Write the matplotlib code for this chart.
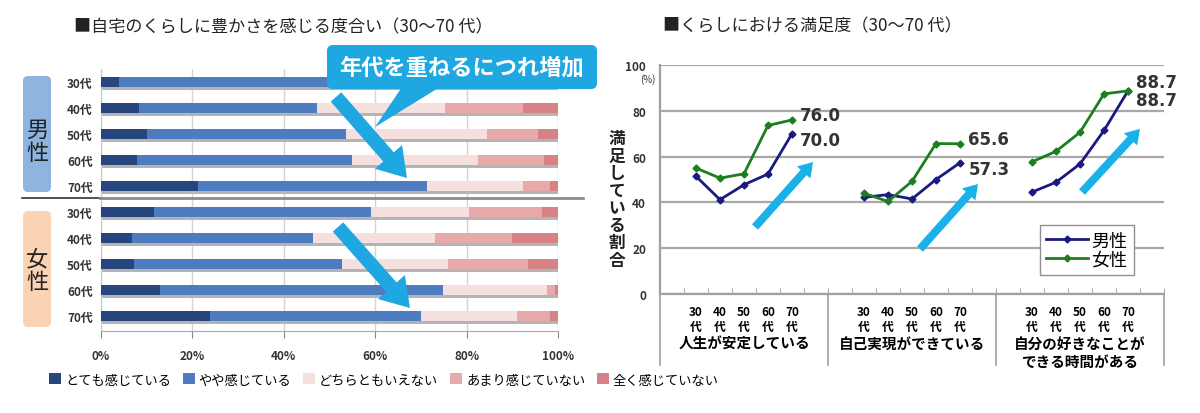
import numpy as np
import matplotlib
matplotlib.use('agg')
import matplotlib.pyplot as plt
from matplotlib.patches import FancyBboxPatch, FancyArrow, Polygon

plt.rcParams['font.family'] = ['Noto Sans CJK JP', 'DejaVu Sans']

###########################################################
# data
###########################################################

# left : 自宅のくらしに豊かさを感じる度合い (%)
ages = ['30代', '40代', '50代', '60代', '70代']
answers = ['とても感じている', 'やや感じている', 'どちらともいえない',
           'あまり感じていない', '全く感じていない']
men = [[4.0, 49.0, 27.0, 13.0, 7.0],
       [8.4, 38.9, 28.0, 17.0, 7.7],
       [10.0, 43.6, 30.8, 11.3, 4.3],
       [7.9, 47.0, 27.6, 14.4, 3.1],
       [21.2, 50.2, 20.9, 5.9, 1.8]]
women = [[11.5, 47.5, 21.6, 15.9, 3.5],
         [6.8, 39.6, 26.6, 17.0, 10.0],
         [7.3, 45.5, 23.2, 17.4, 6.6],
         [13.0, 61.9, 22.8, 1.7, 0.6],
         [23.9, 46.2, 20.9, 7.2, 1.8]]
bar_colors = ['#27467e', '#4e7cc0', '#f6dfdf', '#e8a9ab', '#d98286']

# right : くらしにおける満足度 (%)
groups = ['人生が安定している', '自己実現ができている', '自分の好きなことが\nできる時間がある']
decades = ['30\n代', '40\n代', '50\n代', '60\n代', '70\n代']
male_sat = [[51.4, 41.2, 47.7, 52.4, 70.0],
            [42.2, 43.4, 41.5, 50.0, 57.3],
            [44.5, 48.8, 56.8, 71.4, 88.7]]
female_sat = [[55.0, 50.6, 52.5, 73.6, 76.0],
              [44.0, 40.4, 49.2, 65.7, 65.6],
              [57.7, 62.3, 70.6, 87.4, 88.7]]

###########################################################
# figure
###########################################################
W, H = 1200, 414
fig = plt.figure(figsize=(12, 4.14), dpi=100)

def box(x0, y0, x1, y1):
    # pixel box -> figure fraction
    return [x0 / W, 1 - y1 / H, (x1 - x0) / W, (y1 - y0) / H]

# ---------------- left chart ----------------
ax = fig.add_axes(box(101, 70, 558, 332))
rows = np.array(men + women)
ypos = np.arange(len(rows))
ax.barh(ypos + 0.25, 100, height=0.09, color='#b4b4b4', zorder=2)
left = np.zeros(len(rows))
for k in range(len(answers)):
    ax.barh(ypos, rows[:, k], left=left, height=0.38, color=bar_colors[k],
            label=answers[k], zorder=3)
    left += rows[:, k]
ax.set_xlim(0, 100)
ax.set_ylim(9.58, -0.5)
ax.set_xticks(np.arange(0, 101, 20))
ax.set_xticklabels(['%d%%' % v for v in range(0, 101, 20)], fontsize=8.5,
                   fontweight='bold', color='#333333')
ax.set_yticks(ypos)
ax.set_yticklabels(ages + ages, fontsize=8.5, fontweight='bold', color='#333333')
ax.tick_params(axis='y', length=0, pad=6)
ax.tick_params(axis='x', length=5, color='#888888', pad=8)
ax.grid(axis='x', color='#d4d4d4', lw=1, zorder=0)
for s in ['top', 'right']:
    ax.spines[s].set_visible(False)
ax.spines['left'].set_color('#c8c8c8')
ax.spines['bottom'].set_color('#a8a8a8')
ax.spines['bottom'].set_linestyle((0, (2, 1)))

ax.set_title('■自宅のくらしに豊かさを感じる度合い（30～70 代）', loc='left', x=-0.06,
             fontsize=12.3, pad=27, color='#222222')

fig.legend(*ax.get_legend_handles_labels(), loc='center left',
           bbox_to_anchor=(0.031, 1 - 381 / H), ncol=5, frameon=False,
           fontsize=9.5, handlelength=0.9, handleheight=0.9, handletextpad=0.3,
           columnspacing=0.9)

# ---------------- right chart ----------------
ax2 = fig.add_axes(box(660, 66, 1164, 295))
for g in range(len(groups)):
    xs = np.arange(5) + 7 * g + 1
    ax2.plot(xs, male_sat[g], color='#1a1a80', lw=2, marker='D', ms=3.5,
             label='男性' if g == 0 else None, zorder=4)
    ax2.plot(xs, female_sat[g], color='#1e7d1e', lw=2, marker='D', ms=3.5,
             label='女性' if g == 0 else None, zorder=4)
    # push the end labels apart when the two values are close
    if abs(female_sat[g][-1] - male_sat[g][-1]) < 3:
        f_off, m_off = 6.5, -6.5
    else:
        f_off, m_off = 3.5, -4.5
    ax2.annotate('%.1f' % female_sat[g][-1], (xs[-1], female_sat[g][-1]),
                 xytext=(6, f_off), textcoords='offset points', ha='left', va='center',
                 fontsize=12, fontweight='bold', color='#333333', family='DejaVu Sans')
    ax2.annotate('%.1f' % male_sat[g][-1], (xs[-1], male_sat[g][-1]),
                 xytext=(6, m_off), textcoords='offset points', ha='left', va='center',
                 fontsize=12, fontweight='bold', color='#333333', family='DejaVu Sans')
    ax2.text(7 * g + 3, -0.18, groups[g], transform=ax2.get_xaxis_transform(),
             ha='center', va='top', fontsize=10.5, fontweight='bold', linespacing=1.15)

xt = np.concatenate([np.arange(5) + 7 * g + 1 for g in range(len(groups))])
ax2.set_xticks(xt)
ax2.set_xticklabels(decades * len(groups), fontsize=8.5, fontweight='bold',
                    linespacing=1.2)
ax2.set_xticks(np.arange(-0.5, 21, 1), minor=True)
ax2.tick_params(axis='x', which='major', length=0, pad=8)
ax2.tick_params(axis='x', which='minor', direction='in', length=4, color='#999999')
ax2.set_xlim(-0.5, 20.5)
ax2.set_ylim(0, 100)
ax2.set_yticks(np.arange(0, 101, 20))
ax2.set_yticklabels([str(v) for v in range(0, 101, 20)], fontsize=8.5,
                    fontweight='bold', color='#333333')
ax2.tick_params(axis='y', length=0, pad=10)
ax2.grid(axis='y', color='#a8a8a8', lw=1.6, zorder=0)
for s in ['top', 'right']:
    ax2.spines[s].set_visible(False)
for s in ['left', 'bottom']:
    ax2.spines[s].set_color('#a0a0a0')
    ax2.spines[s].set_linewidth(1.6)
for xb in [-0.5, 6.5, 13.5, 20.5]:
    ax2.plot([xb, xb], [0, -0.31], transform=ax2.get_xaxis_transform(),
             clip_on=False, color='#a0a0a0', lw=1.2)

ax2.legend(loc='upper left', bbox_to_anchor=(0.754, 0.30), fancybox=False,
           edgecolor='#909090', fontsize=13, handlelength=2.3, borderpad=0.35,
           labelspacing=0.05, handletextpad=0.2, framealpha=1, borderaxespad=0)

ax2.set_title('■くらしにおける満足度（30～70 代）', loc='left', x=0.005,
              fontsize=12.3, pad=25, color='#222222')

# ---------------- decorations (pixel overlay) ----------------
ov = fig.add_axes([0, 0, 1, 1], zorder=10)
ov.set_xlim(0, W)
ov.set_ylim(H, 0)
ov.axis('off')
ov.patch.set_alpha(0)

ov.add_patch(FancyBboxPatch((23, 77), 28, 116, boxstyle='round,pad=0,rounding_size=5',
                            fc='#8fb4e0', ec='none'))
ov.add_patch(FancyBboxPatch((23, 212), 28, 116, boxstyle='round,pad=0,rounding_size=5',
                            fc='#fad3b4', ec='none'))
ov.text(37, 142, '男\n性', ha='center', va='center', fontsize=16, linespacing=1.0,
        color='#222222')
ov.text(37, 271, '女\n性', ha='center', va='center', fontsize=16, linespacing=1.0,
        color='#222222')
ov.plot([22, 100], [199, 199], color='#333333', lw=1.2)
ov.plot([100, 583], [199, 199], color='#8c8c8c', lw=2)

cyan = '#1ea7e1'
ov.add_patch(FancyBboxPatch((327, 46), 270, 44, boxstyle='round,pad=0,rounding_size=6',
                            fc=cyan, ec='none'))
ov.add_patch(Polygon([(402, 88), (440, 88), (375, 128)], closed=True, fc=cyan, ec='none'))
ov.text(462, 68, '年代を重ねるにつれ増加', ha='center', va='center', fontsize=16,
        fontweight='bold', color='white')

for (x0, y0, x1, y1) in [(336, 98, 407, 179), (338, 228, 410, 309)]:
    ov.add_patch(FancyArrow(x0, y0, x1 - x0, y1 - y0, width=14, head_width=36,
                            head_length=28, length_includes_head=True, fc=cyan, ec='none'))
for (x0, y0, x1, y1) in [(755, 228, 813, 163), (920, 250, 978, 185), (1082, 193, 1140, 130)]:
    ov.add_patch(FancyArrow(x0, y0, x1 - x0, y1 - y0, width=8, head_width=18,
                            head_length=14, length_includes_head=True, fc='#1ab0ea', ec='none'))

ov.text(648, 80, '(%)', ha='center', va='center', fontsize=7, color='#333333')
ov.text(617, 200, '\n'.join('満足している割合'), ha='center', va='center', fontsize=12,
        fontweight='bold', linespacing=0.95, color='#222222')

fig.savefig('out.png', dpi=100)
